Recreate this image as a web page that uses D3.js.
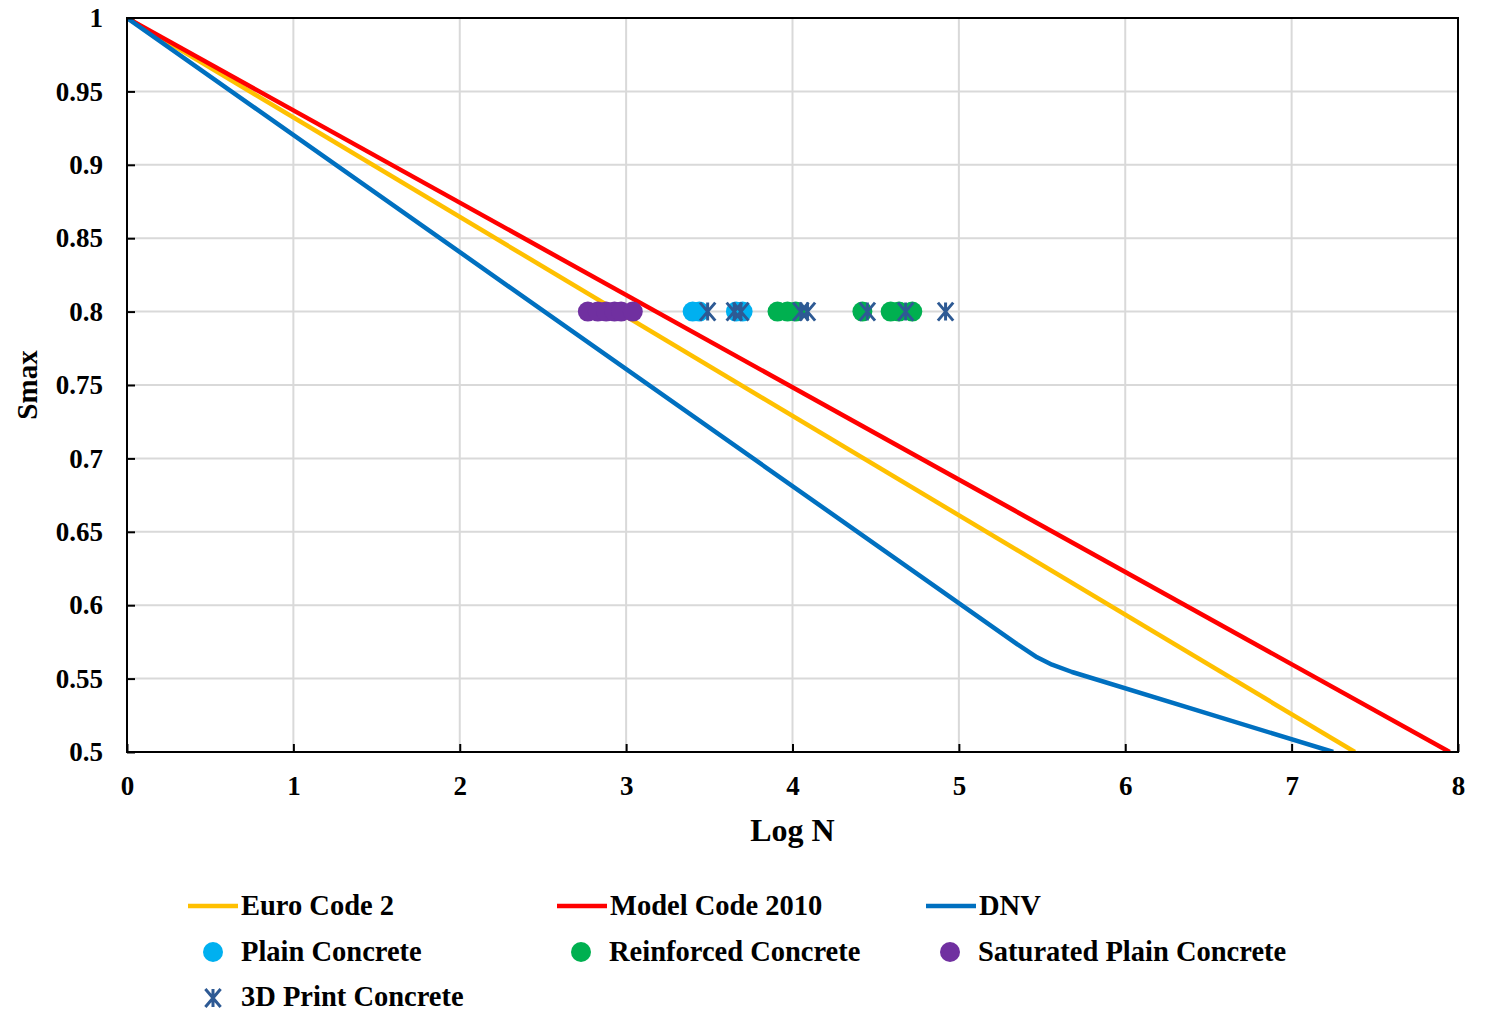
<!DOCTYPE html>
<html>
<head>
<meta charset="utf-8">
<script src="https://cdn.jsdelivr.net/npm/d3@7"></script>
<style>
  body { margin: 0; background: #fff; }
  text { font-family: "Liberation Serif", "Times New Roman", serif; font-weight: bold; fill: #000; }
</style>
</head>
<body>
<svg id="chart" width="1489" height="1011"></svg>
<script>
// design curves (Log N, Smax)
var euroLogN = [0, 7.38];
var euroS = [1, 0.5];
var mcLogN = [0, 7.95];
var mcS = [1, 0.5];
var dnvLogN = [0, 5.35, 5.47, 5.56, 5.68, 7.25];
var dnvS = [1, 0.5735, 0.5645, 0.5595, 0.5545, 0.5];

// test results, all at Smax = 0.8
var plainLogN = [3.40, 3.44, 3.66, 3.70];
var plainS = [0.8, 0.8, 0.8, 0.8];
var reinfLogN = [3.91, 3.97, 4.02, 4.42, 4.59, 4.64, 4.72];
var reinfS = [0.8, 0.8, 0.8, 0.8, 0.8, 0.8, 0.8];
var satLogN = [2.77, 2.83, 2.88, 2.93, 2.97, 3.04];
var satS = [0.8, 0.8, 0.8, 0.8, 0.8, 0.8];
var printLogN = [3.49, 3.65, 3.69, 4.05, 4.09, 4.45, 4.68, 4.92];
var printS = [0.8, 0.8, 0.8, 0.8, 0.8, 0.8, 0.8, 0.8];

var xTicks = [0, 1, 2, 3, 4, 5, 6, 7, 8];
var yTicks = [0.5, 0.55, 0.6, 0.65, 0.7, 0.75, 0.8, 0.85, 0.9, 0.95, 1];

var svg = d3.select("#chart");
var pLeft = 127, pRight = 1458, pTop = 18, pBottom = 752;

var x = d3.scaleLinear().domain([0, 8]).range([pLeft, pRight]);
var y = d3.scaleLinear().domain([0.5, 1]).range([pBottom, pTop]);

// grid
svg.append("g").selectAll("line").data(xTicks.slice(1, -1)).join("line")
    .attr("x1", d => x(d)).attr("x2", d => x(d))
    .attr("y1", pTop).attr("y2", pBottom)
    .style("stroke", "#d9d9d9").style("stroke-width", 2);
svg.append("g").selectAll("line").data(yTicks.slice(1, -1)).join("line")
    .attr("x1", pLeft).attr("x2", pRight)
    .attr("y1", d => y(d)).attr("y2", d => y(d))
    .style("stroke", "#d9d9d9").style("stroke-width", 2);

svg.append("clipPath").attr("id", "plotclip")
  .append("rect").attr("x", pLeft).attr("y", pTop).attr("width", pRight - pLeft).attr("height", pBottom - pTop);

var line = d3.line().x(d => x(d[0])).y(d => y(d[1]));
var plot = svg.append("g").attr("clip-path", "url(#plotclip)");

function drawLine(xs, ys, color) {
  plot.append("path")
    .datum(d3.zip(xs, ys))
    .attr("d", line)
    .style("fill", "none")
    .style("stroke", color)
    .style("stroke-width", 4.5)
    .style("stroke-linejoin", "round");
}
drawLine(euroLogN, euroS, "#ffc000");
drawLine(mcLogN, mcS, "#ff0000");
drawLine(dnvLogN, dnvS, "#0070c0");

// axes box
svg.append("rect")
    .attr("x", pLeft).attr("y", pTop)
    .attr("width", pRight - pLeft).attr("height", pBottom - pTop)
    .style("fill", "none").style("stroke", "#000").style("stroke-width", 2);

var xAxis = svg.append("g").attr("transform", "translate(0," + pBottom + ")")
    .call(d3.axisBottom(x).tickValues(xTicks).tickSize(-8).tickPadding(24).tickFormat(d3.format("d")));
var yAxis = svg.append("g").attr("transform", "translate(" + pLeft + ",0)")
    .call(d3.axisLeft(y).tickValues(yTicks).tickSize(-8).tickPadding(24).tickFormat(d => d == 1 ? "1" : d3.format(".2~f")(d)));
[xAxis, yAxis].forEach(function(a) {
  a.select(".domain").remove();
  a.selectAll(".tick line").style("stroke", "#000").style("stroke-width", 2);
  a.selectAll(".tick text").style("font-size", "27px").attr("font-family", null);
});
yAxis.selectAll(".tick text").attr("dy", "0.32em");

// markers
function dots(xs, ys, color) {
  svg.append("g").selectAll("circle").data(d3.zip(xs, ys)).join("circle")
    .attr("cx", d => x(d[0])).attr("cy", d => y(d[1]))
    .attr("r", 10).style("fill", color);
}
dots(satLogN, satS, "#7030a0");
dots(plainLogN, plainS, "#00b0f0");
dots(reinfLogN, reinfS, "#00b050");

function star(g, cx, cy) {
  var s = 9;
  g.append("path")
    .attr("d", "M" + (cx - s * 0.85) + "," + (cy - s) + "L" + (cx + s * 0.85) + "," + (cy + s) +
               "M" + (cx + s * 0.85) + "," + (cy - s) + "L" + (cx - s * 0.85) + "," + (cy + s) +
               "M" + cx + "," + (cy - s) + "L" + cx + "," + (cy + s))
    .style("stroke", "#2e5a94").style("stroke-width", 3).style("fill", "none");
}
var starG = svg.append("g");
d3.zip(printLogN, printS).forEach(d => star(starG, x(d[0]), y(d[1])));

// axis titles
svg.append("text").attr("x", (pLeft + pRight) / 2).attr("y", 841)
    .attr("text-anchor", "middle").style("font-size", "32px").text("Log N");
svg.append("text").attr("transform", "translate(37," + ((pTop + pBottom) / 2) + ") rotate(-90)")
    .attr("text-anchor", "middle").style("font-size", "29px").text("Smax");

// legend
var legend = svg.append("g");
var lineItems = [["Euro Code 2", "#ffc000", 188], ["Model Code 2010", "#ff0000", 557], ["DNV", "#0070c0", 926]];
lineItems.forEach(function(it) {
  legend.append("line").attr("x1", it[2]).attr("x2", it[2] + 50).attr("y1", 906).attr("y2", 906)
    .style("stroke", it[1]).style("stroke-width", 4.5);
  legend.append("text").attr("x", it[2] + 53).attr("y", 915).style("font-size", "28.5px").text(it[0]);
});
var dotItems = [["Plain Concrete", "#00b0f0", 213], ["Reinforced Concrete", "#00b050", 581], ["Saturated Plain Concrete", "#7030a0", 950]];
dotItems.forEach(function(it) {
  legend.append("circle").attr("cx", it[2]).attr("cy", 952).attr("r", 10).style("fill", it[1]);
  legend.append("text").attr("x", it[2] + 28).attr("y", 961).style("font-size", "28.5px").text(it[0]);
});
star(legend, 213, 998);
legend.append("text").attr("x", 241).attr("y", 1006).style("font-size", "28.5px").text("3D Print Concrete");
</script>
</body>
</html>
